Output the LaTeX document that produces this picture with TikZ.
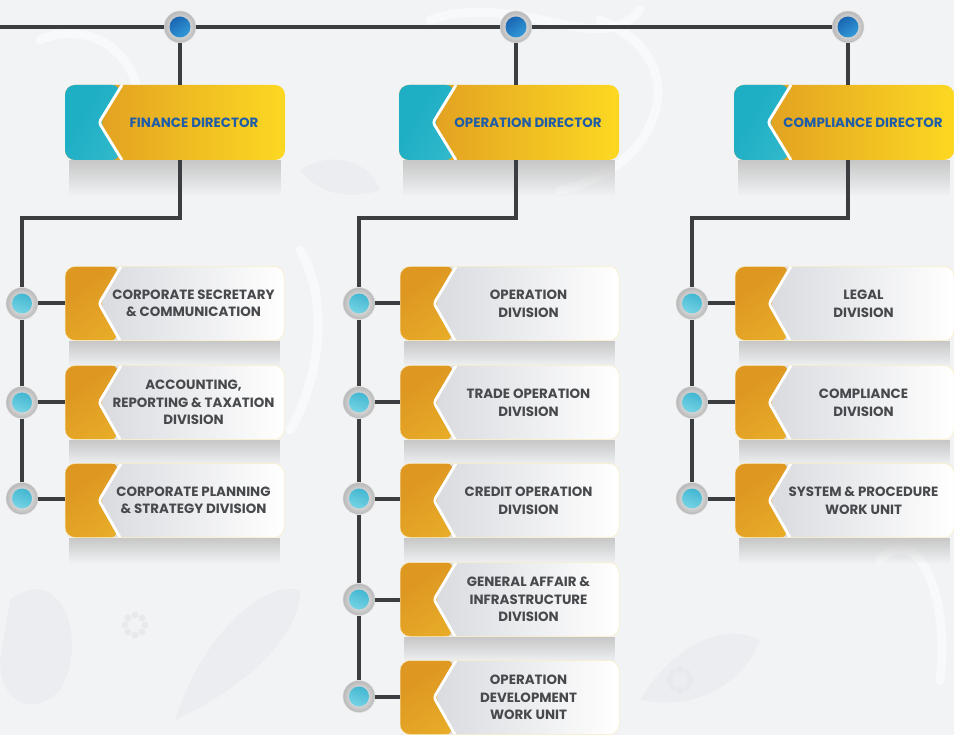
\documentclass[tikz,border=0pt]{standalone}
\usepackage{fontspec}
\setmainfont{Poppins}
\usetikzlibrary{fadings}

\pgfdeclarelayer{backdrop}
\pgfdeclarelayer{shadows}
\pgfsetlayers{backdrop,shadows,main}

\definecolor{bgc}{HTML}{F1F3F5}
\definecolor{motif}{HTML}{E7EAED}
\definecolor{linec}{HTML}{3B3E41}
\definecolor{tealA}{HTML}{1FAFC5}
\definecolor{tealB}{HTML}{5CCDD9}
\definecolor{orA}{HTML}{DE9822}
\definecolor{orB}{HTML}{FCD822}
\definecolor{orC}{HTML}{F4C630}
\definecolor{grA}{HTML}{D2D4D9}
\definecolor{grB}{HTML}{FFFFFF}
\definecolor{dirtext}{HTML}{1F5DA8}
\definecolor{divtext}{HTML}{48494C}
\definecolor{dotblueA}{HTML}{1358A8}
\definecolor{dotblueB}{HTML}{39A8E2}
\definecolor{dotcyanA}{HTML}{33AECB}
\definecolor{dotcyanB}{HTML}{86DCEA}

\tikzfading[name=fadedown, top color=transparent!0, bottom color=transparent!100]

\tikzset{
  conn/.style={draw=linec, line width=4pt},
  % director box: teal chevron on the left, orange-to-yellow body
  dirbox/.style={rectangle, rounded corners=10pt, minimum width=220pt,
    minimum height=75pt, inner sep=0pt, left color=orA, right color=orB,
    path picture={
      \shade[top color=tealA, bottom color=tealB, shading angle=60]
        (path picture bounding box.north west)
        -- ([xshift=57pt]path picture bounding box.north west)
        -- ([xshift=34pt]path picture bounding box.west)
        -- ([xshift=57pt]path picture bounding box.south west)
        -- (path picture bounding box.south west) -- cycle;
      \draw[white, line width=2.8pt, rounded corners=3pt]
        ([xshift=57pt]path picture bounding box.north west)
        -- ([xshift=34pt]path picture bounding box.west)
        -- ([xshift=57pt]path picture bounding box.south west);
    }},
  % division box: orange chevron on the left, pale grey body
  divbox/.style={rectangle, rounded corners=10pt, minimum width=219pt,
    minimum height=74pt, inner sep=0pt, left color=grA, right color=grB,
    draw=orC!30, line width=0.5pt,
    path picture={
      \shade[top color=orA, bottom color=orC, shading angle=35]
        (path picture bounding box.north west)
        -- ([xshift=56pt]path picture bounding box.north west)
        -- ([xshift=34pt]path picture bounding box.west)
        -- ([xshift=55pt]path picture bounding box.south west)
        -- (path picture bounding box.south west) -- cycle;
      \draw[white, line width=2.8pt, rounded corners=3pt]
        ([xshift=56pt]path picture bounding box.north west)
        -- ([xshift=34pt]path picture bounding box.west)
        -- ([xshift=55pt]path picture bounding box.south west);
    }},
  dirtxt/.style={font=\bfseries\fontsize{13.4}{15}\selectfont, text=dirtext, align=center, inner sep=0pt},
  divtxt/.style={font=\bfseries\fontsize{13.4}{17.6}\selectfont, text=divtext, align=center, inner sep=0pt},
  % round connector dots
  ring/.style={circle, minimum size=32pt, inner sep=0pt,
    inner color=white, outer color=black!28, draw=black!12, line width=0.5pt},
  topdot/.style={ring, path picture={
      \shade[top color=dotblueA, bottom color=dotblueB, shading angle=35]
        (path picture bounding box.center) circle (10.5pt);}},
  rowdot/.style={ring, path picture={
      \shade[top color=dotcyanA, bottom color=dotcyanB, shading angle=-20]
        (path picture bounding box.center) circle (10pt);}},
  boxshade/.style={fill=black!22, path fading=fadedown},
  motifline/.style={draw=white, line width=9pt, opacity=0.55, line cap=round},
  motiffill/.style={fill=motif, opacity=0.6},
}

\begin{document}
\begin{tikzpicture}[x=1pt, y=-1pt]
\useasboundingbox (0,0) rectangle (954,735);
\begin{pgfonlayer}{backdrop}
  \fill[bgc] (0,0) rectangle (954,735);
  % faint batik flourishes in the backdrop
  \begin{scope}
  \clip (0,0) rectangle (954,735);
  \draw[motifline] (40,40) .. controls (110,10) and (170,90) .. (120,150);
  \draw[motifline] (600,20) .. controls (700,60) and (660,170) .. (560,190);
  \draw[motifline] (430,20) .. controls (520,-10) and (600,60) .. (640,10);
  \draw[motifline] (300,250) .. controls (330,300) and (320,380) .. (290,430);
  \draw[motifline] (880,560) .. controls (920,520) and (950,600) .. (940,680);
  \fill[motiffill] (10,600) .. controls (60,560) and (90,640) .. (60,690)
     .. controls (30,720) and (0,700) .. (0,660) -- cycle;
  \fill[motiffill] (175,720) .. controls (200,640) and (260,580) .. (300,590)
     .. controls (300,640) and (240,690) .. (175,720) -- cycle;
  \fill[motiffill] (640,700) .. controls (670,650) and (720,620) .. (760,640)
     .. controls (740,690) and (690,710) .. (640,700) -- cycle;
  \fill[motiffill] (300,170) .. controls (330,150) and (370,160) .. (380,190)
     .. controls (350,200) and (320,195) .. (300,170) -- cycle;
  \foreach \a in {0,45,...,315}
    \fill[motif] (135,625) ++(\a:10) circle (3.5);
  \foreach \a in {0,45,...,315}
    \fill[motif] (680,680) ++(\a:10) circle (3.5);
  \end{scope}
\end{pgfonlayer}

% top row of dots
\coordinate (start) at (0,27);
\node[topdot] (tc1) at (180,27) {};
\node[topdot] (tc2) at (516,27) {};
\node[topdot] (tc3) at (848,27) {};

% directors
\node[dirbox] (fin) at (175,122.5) {};
\node[dirbox] (opr) at (509,122.5) {};
\node[dirbox] (com) at (844,122.5) {};
\node[dirtxt] (fin-t) at ([xshift=19pt]fin.center) {FINANCE DIRECTOR};
\node[dirtxt] (opr-t) at ([xshift=19pt]opr.center) {OPERATION DIRECTOR};
\node[dirtxt] (com-t) at ([xshift=19pt]com.center) {COMPLIANCE DIRECTOR};

% divisions
\node[divbox] (f1) at (174.5,303.5) {};
\node[divbox] (f2) at (174.5,402.5) {};
\node[divbox] (f3) at (174.5,500.5) {};
\node[divbox] (o1) at (509.5,303.5) {};
\node[divbox] (o2) at (509.5,402.5) {};
\node[divbox] (o3) at (509.5,500.5) {};
\node[divbox] (o4) at (509.5,599.5) {};
\node[divbox] (o5) at (509.5,697.5) {};
\node[divbox] (c1) at (844.5,303.5) {};
\node[divbox] (c2) at (844.5,402.5) {};
\node[divbox] (c3) at (844.5,500.5) {};

\node[divtxt] (f1-t) at ([xshift=19pt]f1.center) {CORPORATE SECRETARY\\\& COMMUNICATION};
\node[divtxt] (f2-t) at ([xshift=19pt]f2.center) {ACCOUNTING,\\REPORTING \& TAXATION\\DIVISION};
\node[divtxt] (f3-t) at ([xshift=19pt]f3.center) {CORPORATE PLANNING\\\& STRATEGY DIVISION};
\node[divtxt] (o1-t) at ([xshift=19pt]o1.center) {OPERATION\\DIVISION};
\node[divtxt] (o2-t) at ([xshift=19pt]o2.center) {TRADE OPERATION\\DIVISION};
\node[divtxt] (o3-t) at ([xshift=19pt]o3.center) {CREDIT OPERATION\\DIVISION};
\node[divtxt] (o4-t) at ([xshift=19pt]o4.center) {GENERAL AFFAIR \&\\INFRASTRUCTURE\\DIVISION};
\node[divtxt] (o5-t) at ([xshift=19pt]o5.center) {OPERATION\\DEVELOPMENT\\WORK UNIT};
\node[divtxt] (c1-t) at ([xshift=19pt]c1.center) {LEGAL\\DIVISION};
\node[divtxt] (c2-t) at ([xshift=19pt]c2.center) {COMPLIANCE\\DIVISION};
\node[divtxt] (c3-t) at ([xshift=19pt]c3.center) {SYSTEM \& PROCEDURE\\WORK UNIT};

% dots on the division trunks
\node[rowdot] (fd1) at (22,303.5) {};
\node[rowdot] (fd2) at (22,402.5) {};
\node[rowdot] (fd3) at (22,498.5) {};
\node[rowdot] (od1) at (359,303.5) {};
\node[rowdot] (od2) at (359,402.5) {};
\node[rowdot] (od3) at (359,498.5) {};
\node[rowdot] (od4) at (359,599.5) {};
\node[rowdot] (od5) at (359,696.5) {};
\node[rowdot] (cd1) at (692,303.5) {};
\node[rowdot] (cd2) at (692,402.5) {};
\node[rowdot] (cd3) at (692,498.5) {};

% soft reflections under the boxes
\begin{pgfonlayer}{shadows}
  \foreach \b in {fin,opr,com}
    \fill[boxshade] ([xshift=4pt]\b.south west) rectangle ([xshift=-4pt,yshift=-36pt]\b.south east);
  \foreach \b in {f1,f2,f3,o1,o2,o3,o4,o5,c1,c2,c3}
    \fill[boxshade] ([xshift=4pt]\b.south west) rectangle ([xshift=-4pt,yshift=-26pt]\b.south east);
\end{pgfonlayer}

% top rail
\draw[conn] (start) -- (tc1);
\draw[conn] (tc1) -- (tc2);
\draw[conn] (tc2) -- (tc3);
\draw[conn] (tc1) -- (tc1 |- fin.north);
\draw[conn] (tc2) -- (tc2 |- opr.north);
\draw[conn] (tc3) -- (tc3 |- com.north);

% trunks from each director to its divisions
\draw[conn] (tc1 |- fin.south) -- (tc1 |- 0,218) -| (fd1);
\draw[conn] (tc2 |- opr.south) -- (tc2 |- 0,218) -| (od1);
\draw[conn] (tc3 |- com.south) -- (tc3 |- 0,218) -| (cd1);
\draw[conn] (fd1) -- (fd2);
\draw[conn] (fd2) -- (fd3);
\draw[conn] (od1) -- (od2);
\draw[conn] (od2) -- (od3);
\draw[conn] (od3) -- (od4);
\draw[conn] (od4) -- (od5);
\draw[conn] (cd1) -- (cd2);
\draw[conn] (cd2) -- (cd3);

% branches into the division boxes
\foreach \d/\b in {fd1/f1,fd2/f2,fd3/f3,od1/o1,od2/o2,od3/o3,od4/o4,od5/o5,cd1/c1,cd2/c2,cd3/c3}
  \draw[conn] (\d) -- (\d -| \b.west);
\end{tikzpicture}
\end{document}
